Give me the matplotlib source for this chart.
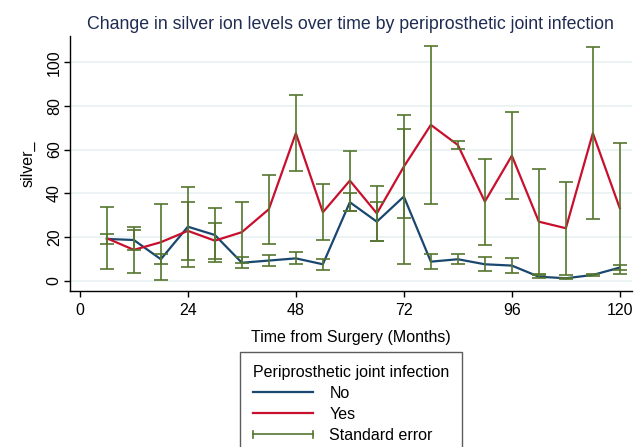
#!/usr/bin/env python3

import matplotlib.pyplot as plt
from matplotlib.legend_handler import HandlerBase
from matplotlib.lines import Line2D

plt.rcParams["font.family"] = ["Liberation Sans", "DejaVu Sans"]

months = [6, 12, 18, 24, 30, 36, 42, 48, 54, 60,
          66, 72, 78, 84, 90, 96, 102, 108, 114, 120]
silver_no = [19.1, 18.6, 9.8, 24.7, 20.9, 8.2, 9.2, 10.2, 7.5, 35.9,
             27.0, 38.5, 8.7, 9.8, 7.5, 6.9, 1.8, 1.1, 2.6, 6.0]
se_no = [2.4, 4.6, 2.3, 18.3, 12.2, 2.4, 2.7, 2.8, 2.5, 4.1,
         8.9, 30.8, 3.5, 2.2, 3.3, 3.3, 0.7, 0.3, 0.5, 1.0]
silver_yes = [19.4, 14.1, 17.6, 22.8, 18.3, 22.2, 32.7, 67.5, 31.3, 45.8,
              30.8, 52.2, 71.3, 62.1, 36.2, 57.2, 27.0, 24.0, 67.5, 33.1]
se_yes = [14.2, 10.4, 17.4, 13.4, 8.3, 14.0, 15.7, 17.5, 12.8, 13.7,
          12.7, 23.7, 36.3, 1.7, 19.7, 20.0, 24.0, 21.3, 39.4, 30.0]
x_ticks = [0, 24, 48, 72, 96, 120]
y_ticks = [0, 20, 40, 60, 80, 100]

BLUE = "#1a476f"
RED = "#c8102e"
GREEN = "#55752f"
TEXT = "#1e2b52"


class HandlerCapLine(HandlerBase):
    # horizontal line with a cap at each end, like Stata's rcap key
    def create_artists(self, legend, orig_handle, xdescent, ydescent,
                       width, height, fontsize, trans):
        x0, x1 = -xdescent, -xdescent + width
        y = height / 2 - ydescent
        h = height * 0.3
        kw = {"color": GREEN, "lw": 1.2, "transform": trans}
        return [Line2D([x0, x1], [y, y], **kw),
                Line2D([x0, x0], [y - h, y + h], **kw),
                Line2D([x1, x1], [y - h, y + h], **kw)]


def main():
    fig = plt.figure(figsize=(6.34, 4.47), dpi=100)
    ax = fig.add_axes([69.5 / 634, 1 - 290.7 / 447, (632 - 69.5) / 634, (290.7 - 36) / 447])

    ax.plot(months, silver_no, color=BLUE, lw=1.6, zorder=2)
    ax.plot(months, silver_yes, color=RED, lw=1.6, zorder=2)
    for vals, se in ((silver_no, se_no), (silver_yes, se_yes)):
        ax.errorbar(months, vals, yerr=se, fmt="none", ecolor=GREEN,
                    elinewidth=1.2, capsize=5, capthick=1.2, zorder=3)

    ax.set_xlim(-2.3, 122.7)
    ax.set_ylim(-4.6, 112)
    ax.set_xticks(x_ticks)
    ax.set_yticks(y_ticks)
    ax.set_yticklabels([str(v) for v in y_ticks], rotation=90, va="center")
    ax.tick_params(labelsize=11.5, length=4.5, width=1, colors="black")
    ax.tick_params(axis="y", pad=1)
    ax.tick_params(axis="x", pad=4)
    ax.grid(axis="y", color="#eaf2f3", lw=1.3)
    ax.set_axisbelow(True)
    for side in ("top", "right"):
        ax.spines[side].set_visible(False)
    for side in ("left", "bottom"):
        ax.spines[side].set_linewidth(1.0)

    ax.set_xlabel("Time from Surgery (Months)", fontsize=11.5, labelpad=9)
    ax.set_ylabel("silver_", fontsize=11.5, labelpad=8)
    ax.set_title("Change in silver ion levels over time by periprosthetic joint infection",
                 fontsize=12.8, color=TEXT, pad=5)

    handles = [Line2D([], [], color=BLUE, lw=1.6),
               Line2D([], [], color=RED, lw=1.6),
               object()]
    leg = fig.legend(handles, ["No", "Yes", "Standard error"],
                     title="Periprosthetic joint infection",
                     handler_map={object: HandlerCapLine()},
                     loc="upper left", bbox_to_anchor=(240 / 634, 1 - 352 / 447),
                     fontsize=11.5, title_fontsize=11.5, frameon=True, fancybox=False,
                     edgecolor="#333333", borderpad=0.8, handlelength=3.8,
                     handletextpad=1.0, labelspacing=0.38, borderaxespad=0)
    leg.get_frame().set_linewidth(1.0)
    leg._legend_box.align = "left"

    fig.savefig("out.png", dpi=100)
    plt.close(fig)


if __name__ == "__main__":
    main()
